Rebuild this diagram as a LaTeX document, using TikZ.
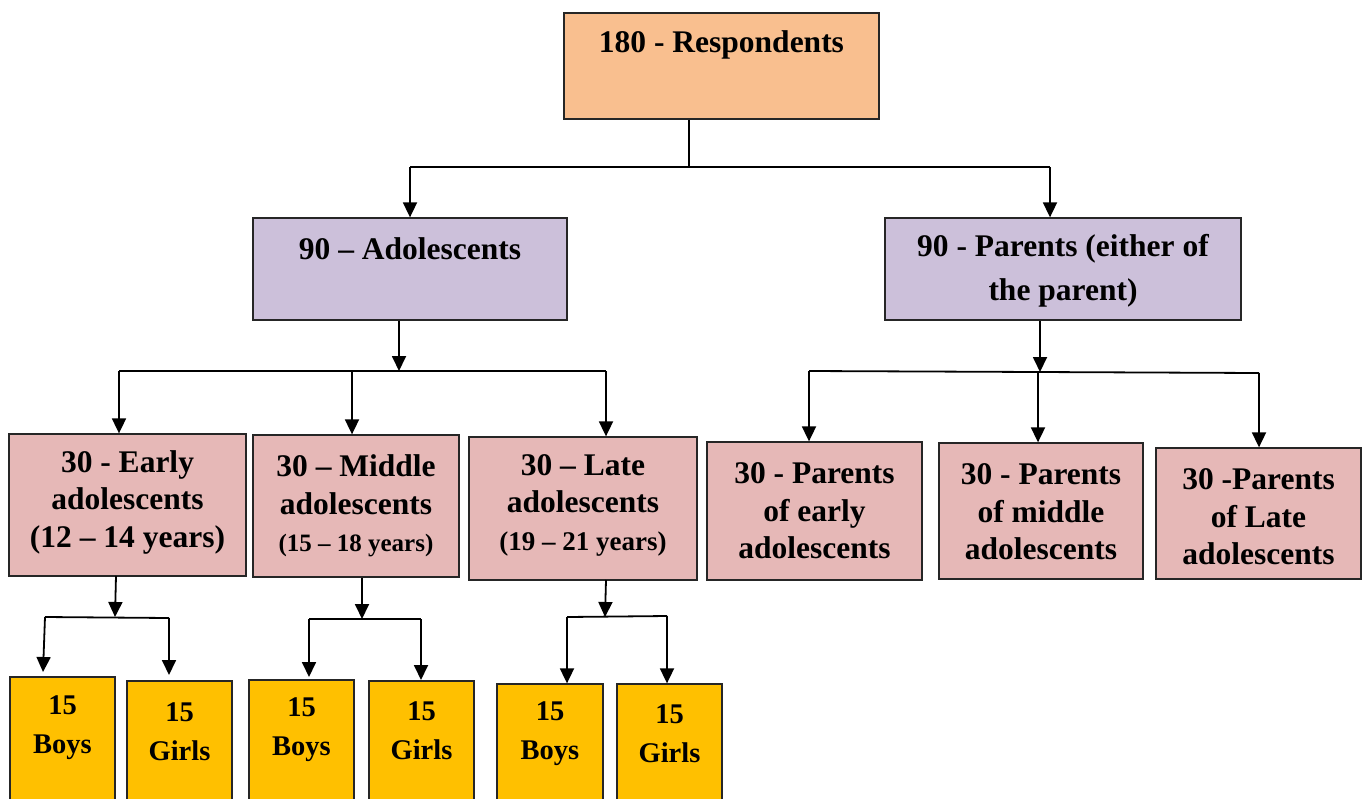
\documentclass[tikz,border=0pt]{standalone}
\usepackage{fontspec}
\setmainfont{Liberation Serif}
\usetikzlibrary{arrows.meta,fit}
\definecolor{peach}{HTML}{F9BF8F}
\definecolor{lav}{HTML}{CCC0DA}
\definecolor{pinkbox}{HTML}{E6B8B7}
\definecolor{yel}{HTML}{FFC000}
\begin{document}
\begin{tikzpicture}[x=1pt,y=-1pt,
  box/.style={draw=black!85, line width=1.3pt, inner sep=0pt},
  txt/.style={font=\bfseries\fontsize{31.5}{37.5}\selectfont, align=center, inner sep=0pt},
  stxt/.style={font=\bfseries\fontsize{28.5}{39}\selectfont, align=center, inner sep=0pt},
  ln/.style={line width=1.8pt},
  arr/.style={ln,-{Triangle[length=15pt,width=14pt]}}]
\useasboundingbox (0,0) rectangle (1367,798);
\fill[white] (0,0) rectangle (1367,798);
% boxes
\node[box, fill=peach, fit={(564,13) (879,119)}] (top) {};
\node[box, fill=lav, fit={(253,218) (567,320)}] (ado) {};
\node[box, fill=lav, fit={(885,218) (1241,320)}] (par) {};
\node[box, fill=pinkbox, fit={(9,434) (246,576)}] (early) {};
\node[box, fill=pinkbox, fit={(253,435) (459,577)}] (mid) {};
\node[box, fill=pinkbox, fit={(469,437) (697,580)}] (late) {};
\node[box, fill=pinkbox, fit={(707,442) (922,580)}] (pe) {};
\node[box, fill=pinkbox, fit={(939,443) (1143,579)}] (pm) {};
\node[box, fill=pinkbox, fit={(1156,448) (1361,579)}] (pl) {};
\node[box, fill=yel, fit={(10,677) (115,806)}] (eb) {};
\node[box, fill=yel, fit={(127,681) (232,806)}] (eg) {};
\node[box, fill=yel, fit={(249,680) (354,806)}] (mb) {};
\node[box, fill=yel, fit={(369,681) (474,806)}] (mg) {};
\node[box, fill=yel, fit={(497,684) (603,806)}] (lb) {};
\node[box, fill=yel, fit={(617,684) (722,806)}] (lg) {};
% texts
\node[txt] (ttop) at (top.center |- 0,45) {180 - Respondents};
\node[txt] (tado) at (ado.center |- 0,249) {90 – Adolescents};
\node[txt, font=\bfseries\fontsize{31.5}{44}\selectfont] (tpar) at (par.center |- 0,271) {90 - Parents (either of\\the parent)};
\node[txt] (tearly) at (early.center |- 0,502) {30 - Early\\adolescents\\(12 – 14 years)};
\node[txt] (tmid) at (mid.center |- 0,506) {30 – Middle\\adolescents\\{\fontsize{25}{30}\selectfont (15 – 18 years)}};
\node[txt] (tlate) at (late.center |- 0,505) {30 – Late\\adolescents\\{\fontsize{27}{30}\selectfont (19 – 21 years)}};
\node[txt] (tpe) at (pe.center |- 0,511) {30 - Parents\\of early\\adolescents};
\node[txt] (tpm) at (pm.center |- 0,512) {30 - Parents\\of middle\\adolescents};
\node[txt] (tpl) at (pl.center |- 0,517) {30 -Parents\\of Late\\adolescents};
\node[stxt] (teb) at (eb.center |- 0,728) {15\\Boys};
\node[stxt] (teg) at (eg.center |- 0,732) {15\\Girls};
\node[stxt] (tmb) at (mb.center |- 0,730) {15\\Boys};
\node[stxt] (tmg) at (mg.center |- 0,731) {15\\Girls};
\node[stxt] (tlb) at (lb.center |- 0,734) {15\\Boys};
\node[stxt] (tlg) at (lg.center |- 0,734) {15\\Girls};
% junctions
\coordinate (j0) at (689,167);
\coordinate (j0l) at (410,167);
\coordinate (j0r) at (1050,167);
\coordinate (j1) at (399,371);
\coordinate (j1l) at (119,371);
\coordinate (j1m) at (352,371);
\coordinate (j1r) at (606,371);
\coordinate (j2) at (1040,372);
\coordinate (j2l) at (809,371);
\coordinate (j2m) at (1038,372);
\coordinate (j2r) at (1259,373);
\coordinate (je) at (115,617);
\coordinate (jel) at (45,617);
\coordinate (jer) at (169,618);
\coordinate (jm) at (362,619);
\coordinate (jml) at (309,619);
\coordinate (jmr) at (421,619);
\coordinate (jl) at (605,617);
\coordinate (jll) at (567,617);
\coordinate (jlr) at (667,616);
% connectors level 1
\draw[line width=1.2pt] (j0 |- top.south) -- (j0);
\draw[ln] (j0l) -- (j0r);
\draw[arr] (j0l) -- (j0l |- ado.north);
\draw[arr] (j0r) -- (j0r |- par.north);
% adolescents
\draw[arr] (j1 |- ado.south) -- (j1);
\draw[ln] (j1l) -- (j1r);
\draw[arr] (j1l) -- (j1l |- early.north);
\draw[arr] (j1m) -- (j1m |- mid.north);
\draw[arr] (j1r) -- (j1r |- late.north);
% parents
\draw[arr] (j2 |- par.south) -- (j2);
\draw[ln] (j2l) -- (j2m) -- (j2r);
\draw[arr] (j2l) -- (j2l |- pe.north);
\draw[arr] (j2m) -- (j2m |- pm.north);
\draw[arr] (j2r) -- (j2r |- pl.north);
% early split
\draw[arr] (116,576) -- (je);
\draw[ln] (jel) -- (jer);
\draw[arr] (jel) -- (43,672);
\draw[arr] (jer) -- (jer |- 0,675);
% middle split
\draw[arr] (jm |- mid.south) -- (jm);
\draw[ln] (jml) -- (jmr);
\draw[arr] (jml) -- (jml |- 0,677);
\draw[arr] (jmr) -- (jmr |- 0,680);
% late split
\draw[arr] (606,580) -- (jl);
\draw[ln] (jll) -- (jlr);
\draw[arr] (jll) -- (jll |- lb.north);
\draw[arr] (jlr) -- (jlr |- lg.north);
\end{tikzpicture}
\end{document}
